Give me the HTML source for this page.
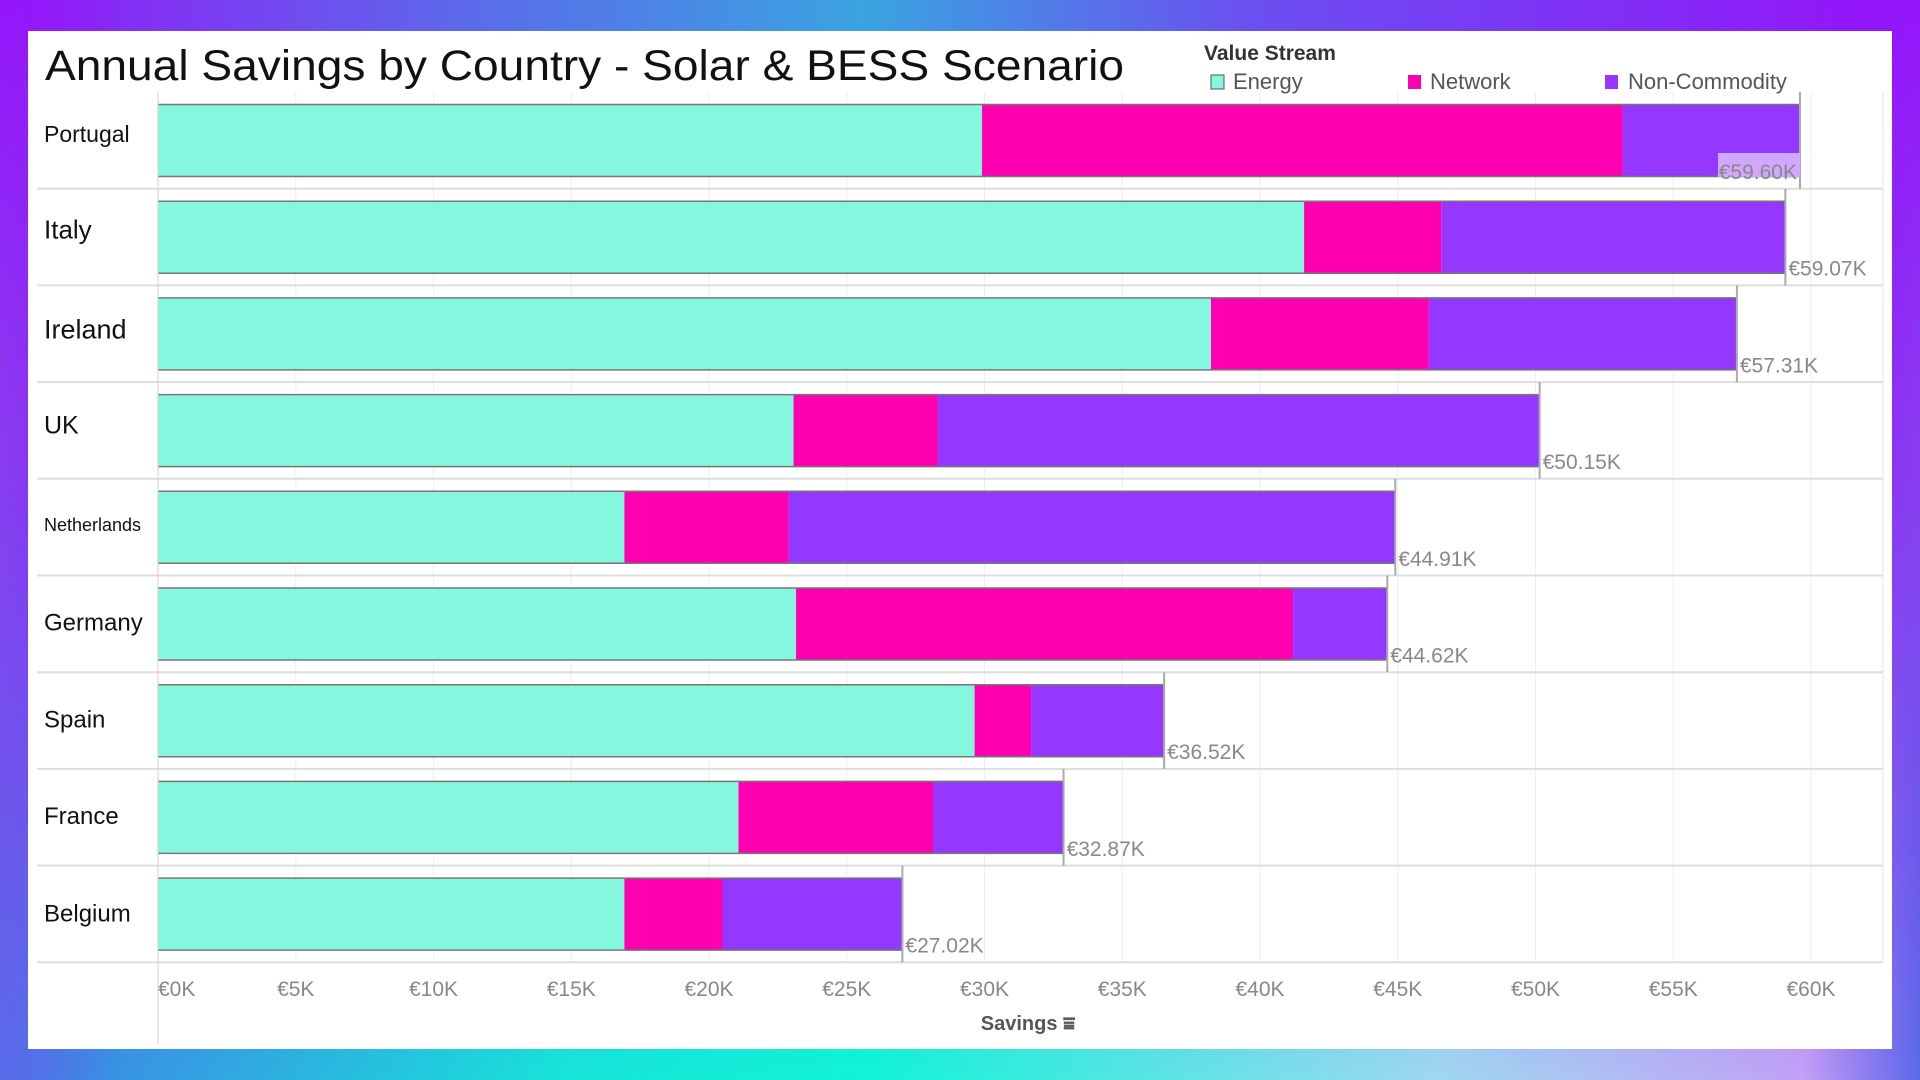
<!DOCTYPE html>
<html><head><meta charset="utf-8">
<style>
html,body{margin:0;padding:0;width:1920px;height:1080px;overflow:hidden;}
#bg{position:absolute;left:0;top:0;width:1920px;height:1080px;background:linear-gradient(90deg,#9418f8 0%,#5a6cea 25%,#3aa4e0 45%,#6a50f0 65%,#9512fb 100%);}
#bg2{position:absolute;left:0;top:0;width:1920px;height:1080px;background:linear-gradient(90deg,#4080e6 0%,#16e6d8 30%,#10f4d6 45%,#a0d8f0 75%,#cc90f8 100%);-webkit-mask-image:linear-gradient(180deg,transparent 0%,transparent 40%,#000 100%);mask-image:linear-gradient(180deg,transparent 0%,transparent 40%,#000 100%);}
#bg3{position:absolute;left:0;top:0;width:1920px;height:1080px;background:linear-gradient(180deg,#9416fa 0%,#8a3cf0 40%,#5a6ae8 100%);-webkit-mask-image:linear-gradient(90deg,#000 0%,transparent 6%,transparent 94%,#000 100%);mask-image:linear-gradient(90deg,#000 0%,transparent 6%,transparent 94%,#000 100%);}
svg{position:absolute;left:0;top:0;}
text{font-family:"Liberation Sans",sans-serif;}
.nar{font-family:"Liberation Sans Narrow","Liberation Sans",sans-serif;}
</style></head>
<body>
<div id="bg"></div>
<div id="bg2"></div>
<div id="bg3"></div>
<svg id="chart" width="1920" height="1080">
  <rect x="28" y="31" width="1864" height="1018" fill="#ffffff"/>
  <text x="45" y="80" font-size="43" fill="#111" textLength="1079" lengthAdjust="spacingAndGlyphs">Annual Savings by Country - Solar &amp; BESS Scenario</text>
  <g>
    <text class="nar" x="1204" y="60" font-size="21" font-weight="bold" fill="#333">Value Stream</text>
    <g>
      <rect x="1211" y="75" width="13" height="14" fill="#84F7DE" stroke="#555" stroke-width="1"/>
      <text class="nar" x="1233" y="89" font-size="22" fill="#555">Energy</text>
    </g>
    <g>
      <rect x="1408" y="75" width="13" height="14" fill="#FF00B0"/>
      <text class="nar" x="1430" y="89" font-size="22" fill="#555">Network</text>
    </g>
    <g>
      <rect x="1605" y="75" width="13" height="14" fill="#9538FF"/>
      <text class="nar" x="1628" y="89" font-size="22" fill="#555">Non-Commodity</text>
    </g>
  </g>
  <g id="grid"></g>
  <g id="rows"></g>
  <g id="xaxis"></g>
  <text class="nar" x="1028" y="1030" font-size="20" font-weight="bold" fill="#555" text-anchor="middle">Savings ⩸</text>
</svg>
<script>
const countries = ["Portugal","Italy","Ireland","UK","Netherlands","Germany","Spain","France","Belgium"];
const energy = [29.91,41.60,38.22,23.07,16.93,23.16,29.64,21.07,16.93];
const network = [23.25,4.98,7.91,5.24,5.96,18.04,2.05,7.06,3.56];
const nonCommodity = [6.44,12.49,11.18,21.84,22.02,3.42,4.83,4.74,6.53];
const tickValues = [0,5,10,15,20,25,30,35,40,45,50,55,60];
const tickLabels = ["€0K","€5K","€10K","€15K","€20K","€25K","€30K","€35K","€40K","€45K","€50K","€55K","€60K"];
const labelSizes = [23,26,27,25,18,24,24,24,24];
const labelShift = [-7,-8,-5,-6,-3,-2,-2,-2,-1];

const NS = "http://www.w3.org/2000/svg";
const X0 = 158, PX_PER_K = 27.55, ROW_TOP = 92, ROW_H = 96.7, BAR_OFF = 12, BAR_H = 73;
const PLOT_RIGHT = 1883, LEFT_EDGE = 37;
function x(v){ return X0 + v*PX_PER_K; }
function rowY(i){ return ROW_TOP + i*ROW_H; }
function mk(tag, attrs, parent){ const e=document.createElementNS(NS,tag); for(const k in attrs) e.setAttribute(k,attrs[k]); parent.appendChild(e); return e; }

const grid = document.getElementById('grid');
const rows = document.getElementById('rows');
const xaxis = document.getElementById('xaxis');
const bottom = rowY(countries.length);

tickValues.forEach((t,i)=>{
  const gl = mk('line',{x1:x(t),x2:x(t),y1:ROW_TOP,y2:bottom,stroke:i===0?'#d0d0d0':'#eeeeee','stroke-width':1},grid);
  
  
  const tx = mk('text',{x:x(t),y:996,'font-size':21,fill:'#888','text-anchor':i===0?'start':'middle',class:'nar'},xaxis);
  tx.textContent = tickLabels[i];
  
  
});
const ax = mk('line',{x1:X0,x2:X0,y1:ROW_TOP,y2:1044,stroke:'#d0d0d0','stroke-width':1},xaxis);



const colors = ['#84F7DE','#FF00B0','#9538FF'];
const segNames = ['energy','network','non-commodity'];
countries.forEach((c,i)=>{
  const g = mk('g',{},rows);
  
  
  const y0 = rowY(i), by = y0 + BAR_OFF;
  const sep = mk('line',{x1:LEFT_EDGE,x2:PLOT_RIGHT,y1:y0+ROW_H,y2:y0+ROW_H,stroke:'#dddddd','stroke-width':2},g);
  
  
  const lab = mk('text',{x:44,y:by+BAR_H/2+labelSizes[i]*0.36+labelShift[i],'font-size':labelSizes[i],fill:'#111'},g);
  lab.textContent = c;
  
  
  const vals = [energy[i],network[i],nonCommodity[i]];
  let acc = 0;
  vals.forEach((v,j)=>{
    const r = mk('rect',{x:x(acc),y:by,width:x(acc+v)-x(acc),height:BAR_H,fill:colors[j]},g);
    
    
    acc += v;
  });
  const total = acc;
  const ex = x(total);
  const tl = mk('line',{x1:X0,x2:ex,y1:by+0.5,y2:by+0.5,stroke:'#777','stroke-width':1.5},g);
  
  
  const bl = mk('line',{x1:X0,x2:ex,y1:by+BAR_H-0.5,y2:by+BAR_H-0.5,stroke:'#777','stroke-width':1.5},g);
  
  
  const ref = mk('line',{x1:ex,x2:ex,y1:y0,y2:y0+ROW_H,stroke:'#aaa','stroke-width':2},g);
  
  
  const txt = '€'+total.toFixed(2)+'K';
  const lw = 80;
  const inside = ex + lw > 1870;
  if(inside){
    const bgR = mk('rect',{x:ex-lw-2,y:by+BAR_H-24,width:lw+2,height:24,fill:'#d2a8ff'},g);
    
    
  }
  const tv = mk('text',{x:inside?ex-3:ex+3,y:by+BAR_H+2,'font-size':21,fill:'#888','text-anchor':inside?'end':'start',class:'nar'},g);
  tv.textContent = txt;
  
  
});
const rb = mk('line',{x1:PLOT_RIGHT,x2:PLOT_RIGHT,y1:ROW_TOP,y2:bottom,stroke:'#e4e4e4','stroke-width':1},grid);


</script>
</body></html>
